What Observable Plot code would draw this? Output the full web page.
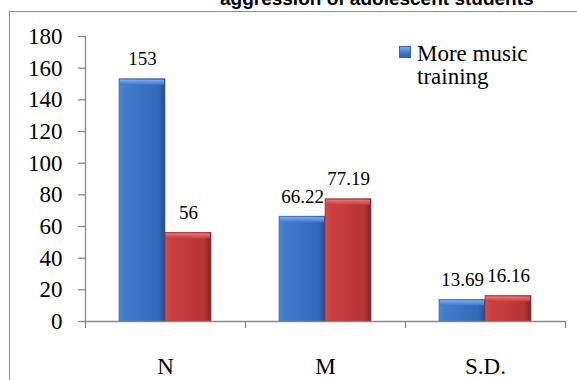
<!DOCTYPE html>
<html>
<head>
<meta charset="utf-8">
<script src="https://cdn.jsdelivr.net/npm/d3@7"></script>
<script src="https://cdn.jsdelivr.net/npm/@observablehq/plot@0.6"></script>
<style>
  html, body { margin: 0; padding: 0; background: #fff; }
  #chart { position: relative; width: 577px; height: 380px; overflow: hidden; background: #fff; }
  #chart svg { position: absolute; left: 0; top: 0; }
  .frame { position: absolute; left: 9px; top: 11px; width: 700px; height: 500px;
           border-left: 1.5px solid #8c8c8c; border-top: 1.5px solid #8c8c8c; }
  .title { position: absolute; top: -11px; left: 220px; white-space: nowrap;
           font-family: "Liberation Sans", Arial, sans-serif; font-weight: bold;
           font-size: 19px; line-height: 19px; color: #000; }
  .legend { position: absolute; left: 399px; top: 42px; }
  .legend .swatch { position: absolute; left: 0; top: 4px; width: 12px; height: 12px;
           background: linear-gradient(180deg, #8bb6ef 0%, #5b90dc 35%, #3a71c3 65%, #2d5ba4 100%);
           box-shadow: inset 0 0 0 1px #3463ad; }
  .legend .label { position: absolute; left: 18px; top: 0; white-space: nowrap;
           font-family: "Liberation Serif", "Times New Roman", serif;
           font-size: 23px; line-height: 23px; color: #000; }
</style>
</head>
<body>
<div id="chart">
  <div class="frame"></div>
  <div class="title">aggression of adolescent students</div>
</div>
<script>
// Summary statistics per group
const categories = ["N", "M", "S.D."];
const moreTraining = [153, 66.22, 13.69];
const lessTraining = [56, 77.19, 16.16];
const yTicks = [0, 20, 40, 60, 80, 100, 120, 140, 160, 180];
const legendLabel = ["More music", "training"];

const more = categories.map((c, i) => ({category: c, value: moreTraining[i]}));
const less = categories.map((c, i) => ({category: c, value: lessTraining[i]}));

const axisGray = "#898989";
const serifFont = "Liberation Serif, Times New Roman, serif";

// gradient definitions for the bevelled bars
const defs = () => {
  const d = d3.create("svg:defs");
  const grad = (id, stops, vertical) => {
    const g = d.append("linearGradient").attr("id", id)
      .attr("x1", 0).attr("y1", 0)
      .attr("x2", vertical ? 0 : 1).attr("y2", vertical ? 1 : 0);
    stops.forEach(([o, c]) => g.append("stop").attr("offset", o).attr("stop-color", c));
  };
  grad("blueBody", [[0, "#4e87d7"], [0.14, "#437ccd"], [0.5, "#3b72c5"], [0.86, "#3569b9"], [1, "#244d92"]]);
  grad("blueTop", [[0, "#7eaeec"], [1, "#3f77c8"]], true);
  grad("redBody", [[0, "#d24c4d"], [0.14, "#c9403f"], [0.5, "#c23a3b"], [0.86, "#b53334"], [1, "#862022"]]);
  grad("redTop", [[0, "#ec7676"], [1, "#c43d3e"]], true);
  return d.node();
};

// each category band is split: first bar on the left half, second on the right
const barL = {insetLeft: 34, insetRight: 80};
const barR = {insetLeft: 80, insetRight: 34};
const topL = {insetLeft: 35, insetRight: 81};
const topR = {insetLeft: 81, insetRight: 35};

const chart = Plot.plot({
  width: 577,
  height: 380,
  marginLeft: 85,
  marginRight: 12,
  marginTop: 36,
  marginBottom: 59,
  style: {fontFamily: serifFont, background: "transparent", color: "#000", overflow: "visible"},
  x: {domain: categories, padding: 0, axis: null},
  y: {domain: [0, 180], axis: null},
  marks: [
    defs,
    // y axis line and category boundary ticks
    Plot.ruleX([categories[0]], {x: d => d, dx: -80, y1: 180, y2: 0, insetBottom: -7, stroke: axisGray, strokeWidth: 1.3}),
    Plot.ruleX(categories.slice(1), {x: d => d, dx: -80, y1: 0, y2: 0, insetBottom: -7, stroke: axisGray, strokeWidth: 1.3}),
    Plot.ruleX([categories[categories.length - 1]], {x: d => d, dx: 80, y1: 0, y2: 0, insetBottom: -7, stroke: axisGray, strokeWidth: 1.3}),
    Plot.axisY({ticks: yTicks, label: null, tickSize: 7, tickPadding: 16, fontSize: 23, fontFamily: serifFont, stroke: axisGray, fill: "#000", strokeWidth: 1.3}),
    Plot.axisX({label: null, tickSize: 0, tickPadding: 36, fontSize: 23, fontFamily: serifFont, fill: "#000"}),
    // bars
    Plot.barY(more, {x: "category", y: "value", fill: "url(#blueBody)", stroke: "#2f5da5", strokeWidth: 0.6, ...barL}),
    Plot.barY(more, {x: "category", y1: "value", y2: "value", insetTop: 1, insetBottom: -6, fill: "url(#blueTop)", ...topL}),
    Plot.barY(less, {x: "category", y: "value", fill: "url(#redBody)", stroke: "#962a2c", strokeWidth: 0.6, ...barR}),
    Plot.barY(less, {x: "category", y1: "value", y2: "value", insetTop: 1, insetBottom: -6, fill: "url(#redTop)", ...topR}),
    Plot.ruleY([0], {stroke: axisGray, strokeWidth: 1.3}),
    // value labels
    Plot.text(more, {x: "category", y: "value", text: d => String(d.value), dx: -23, dy: -14, lineAnchor: "bottom", fontSize: 19, fontFamily: serifFont}),
    Plot.text(less, {x: "category", y: "value", text: d => String(d.value), dx: 23, dy: -14, lineAnchor: "bottom", fontSize: 19, fontFamily: serifFont})
  ]
});

const host = document.getElementById("chart");
host.appendChild(chart);

// legend entry
const legend = document.createElement("div");
legend.className = "legend";
legend.innerHTML = `<div class="swatch"></div><div class="label">${legendLabel.join("<br>")}</div>`;
host.appendChild(legend);
</script>
</body>
</html>
